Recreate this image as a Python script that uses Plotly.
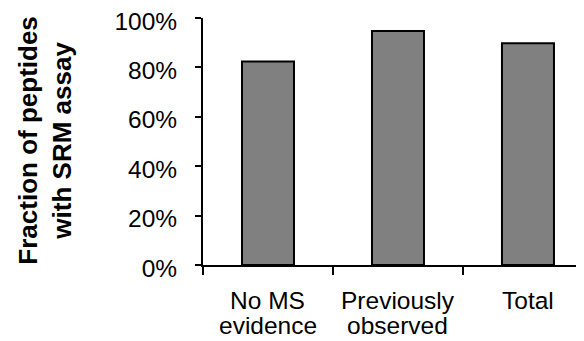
import plotly.graph_objects as go

categories = ["No MS evidence", "Previously observed", "Total"]
label_line1 = ["No MS", "Previously", "Total"]
label_line2 = ["evidence", "observed", ""]
fractions = [0.824, 0.947, 0.898]
y_ticks = [0, 0.2, 0.4, 0.6, 0.8, 1.0]
y_title_lines = ["Fraction of peptides", "with SRM assay"]

FONT = "Arial, Liberation Sans, sans-serif"

fig = go.Figure()
fig.add_trace(go.Bar(
    x=categories, y=fractions, width=0.4,
    marker=dict(color="#808080", line=dict(color="black", width=2)),
))

annotations = []
for c, l1, l2 in zip(categories, label_line1, label_line2):
    annotations.append(dict(x=c, xref="x", y=-0.142, yref="paper", text=l1,
                            showarrow=False, xanchor="center", yanchor="middle",
                            font=dict(family=FONT, size=24.5, color="black")))
    if l2:
        annotations.append(dict(x=c, xref="x", y=-0.243, yref="paper", text=l2,
                                showarrow=False, xanchor="center", yanchor="middle",
                                font=dict(family=FONT, size=24.5, color="black")))

annotations.append(dict(x=-0.415, xref="paper", y=0.503, yref="paper",
                        text="<b>" + y_title_lines[0] + "</b><br><b>" + y_title_lines[1] + "</b>",
                        textangle=-90, showarrow=False, xanchor="center", yanchor="middle",
                        font=dict(family=FONT, size=26, color="black")))

# page body has an 8px default margin, so the figure is sized to fit the window
fig.update_layout(
    width=576, height=333,
    margin=dict(l=195, r=0, t=7, b=76),
    paper_bgcolor="white", plot_bgcolor="white",
    showlegend=False,
    annotations=annotations,
    font=dict(family=FONT, size=24.5, color="black"),
)
fig.update_xaxes(
    type="category", range=[-0.5, 2.431],
    showline=True, linecolor="black", linewidth=2,
    ticks="outside", tickson="boundaries", ticklen=8, tickwidth=2, tickcolor="black",
    showticklabels=False, showgrid=False, zeroline=False,
)
fig.update_yaxes(
    range=[0, 1], tickvals=y_ticks, tickformat=".0%",
    showline=True, linecolor="black", linewidth=2,
    ticks="outside", ticklen=6, tickwidth=2, tickcolor="black",
    ticklabelstandoff=13, ticklabelshift=3, ticklabeloverflow="allow",
    tickfont=dict(family=FONT, size=24.5, color="black"),
    showgrid=False, zeroline=False,
)

fig.write_html("out.html")
